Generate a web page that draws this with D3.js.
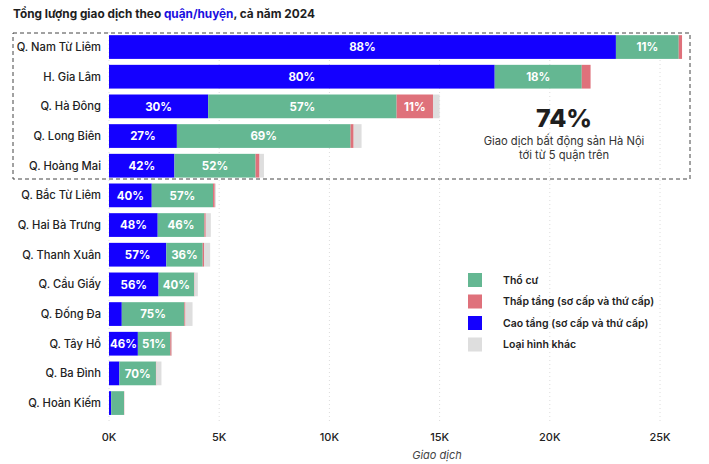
<!DOCTYPE html>
<html><head><meta charset="utf-8">
<script src="https://cdn.jsdelivr.net/npm/d3@7"></script>
<style>
body{margin:0;background:#fff;}
svg{display:block;font-family:Inter,"Noto Sans",sans-serif;}
</style></head>
<body><svg id="chart" width="709" height="464"></svg>
<script>
const districts = ["Q. Nam Từ Liêm","H. Gia Lâm","Q. Hà Đông","Q. Long Biên","Q. Hoàng Mai","Q. Bắc Từ Liêm","Q. Hai Bà Trưng","Q. Thanh Xuân","Q. Cầu Giấy","Q. Đống Đa","Q. Tây Hồ","Q. Ba Đình","Q. Hoàn Kiếm"];
// values in thousands of transactions
const caoTang  = [23.0, 17.5, 4.5, 3.08, 2.97, 1.94, 2.21, 2.6, 2.25, 0.58, 1.31, 0.47, 0.1];
const thoCu    = [2.85, 3.95, 8.55, 7.88, 3.68, 2.78, 2.12, 1.65, 1.61, 2.84, 1.47, 1.66, 0.58];
const thapTang = [0.15, 0.4, 1.65, 0.14, 0.18, 0.08, 0.06, 0.06, 0.02, 0.05, 0.06, 0.02, 0.01];
const khac     = [0.0, 0.0, 0.3, 0.36, 0.2, 0.05, 0.23, 0.28, 0.15, 0.32, 0.02, 0.23, 0.01];
const xTicks = [0, 5, 10, 15, 20, 25];
const seriesNames = ["Cao tầng (sơ cấp và thứ cấp)","Thổ cư","Thấp tầng (sơ cấp và thứ cấp)","Loại hình khác"];
const legendOrder = ["Thổ cư","Thấp tầng (sơ cấp và thứ cấp)","Cao tầng (sơ cấp và thứ cấp)","Loại hình khác"];
const colors = {"Cao tầng (sơ cấp và thứ cấp)":"#1400ff","Thổ cư":"#64b792","Thấp tầng (sơ cấp và thứ cấp)":"#df717b","Loại hình khác":"#dedede"};
const seriesArrays = [caoTang, thoCu, thapTang, khac];

const rows = districts.map((d,i)=>{const o={district:d}; seriesNames.forEach((s,j)=>o[s]=seriesArrays[j][i]); o.total=seriesArrays.reduce((a,arr)=>a+arr[i],0); return o;});

const svg = d3.select("#chart");
const x = d3.scaleLinear().domain([0,25]).range([109,660]);
const y = d3.scaleBand().domain(districts).range([32.2,417.9]).paddingInner(0.2).paddingOuter(0.1);

// title
const title = svg.append("text").attr("x",13).attr("y",18).attr("font-size",11.8).attr("font-weight",700).attr("fill","#1e1e1e");
title.append("tspan").text("Tổng lượng giao dịch theo ");
title.append("tspan").attr("fill","#1a10e0").text("quận/huyện");
title.append("tspan").text(", cả năm 2024");

// gridlines
svg.append("g").selectAll("line").data(xTicks).join("line")
  .attr("x1",d=>x(d)).attr("x2",d=>x(d)).attr("y1",32).attr("y2",424)
  .attr("stroke","#dcdcdc").attr("stroke-width",1).attr("stroke-dasharray","1,3");

// stacked bars
const stack = d3.stack().keys(seriesNames)(rows);
const g = svg.append("g");
stack.forEach(layer=>{
  const key = layer.key;
  const lg = g.append("g");
  lg.selectAll("rect").data(layer).join("rect")
    .attr("x",d=>x(d[0])).attr("width",d=>Math.max(0,x(d[1])-x(d[0])))
    .attr("y",d=>y(d.data.district)).attr("height",y.bandwidth())
    .attr("fill",colors[key]);
  lg.selectAll("text").data(layer.filter(d=>x(d[1])-x(d[0])>=25)).join("text")
    .attr("x",d=>(x(d[0])+x(d[1]))/2).attr("y",d=>y(d.data.district)+y.bandwidth()/2)
    .attr("dy","0.36em").attr("text-anchor","middle").attr("font-size",11.5).attr("font-weight",700)
    .attr("fill","#fff").text(d=>Math.round((d[1]-d[0])/d.data.total*100)+"%");
});

// y labels
svg.append("g").selectAll("text").data(districts).join("text")
  .attr("x",101).attr("y",d=>y(d)+y.bandwidth()/2).attr("dy","0.36em").attr("text-anchor","end")
  .attr("font-size",11.2).attr("font-weight",500).attr("fill","#222").text(d=>d);

// x axis labels
svg.append("g").selectAll("text").data(xTicks).join("text")
  .attr("x",d=>x(d)).attr("y",441).attr("text-anchor","middle").attr("font-size",11).attr("font-weight",500)
  .attr("fill","#222").text(d=>d+"K");
svg.append("text").attr("x",437).attr("y",459).attr("text-anchor","middle").attr("font-size",11)
  .attr("font-style","italic").attr("fill","#444").text("Giao dịch");

// dashed box
svg.append("rect").attr("x",13).attr("y",33).attr("width",677).attr("height",146)
  .attr("fill","none").attr("stroke","#444").attr("stroke-width",1).attr("stroke-dasharray","4,3");

// annotation
svg.append("text").attr("x",564).attr("y",127).attr("text-anchor","middle").attr("font-size",25).attr("font-weight",800).attr("fill","#1e1e1e").text("74%");
svg.append("text").attr("x",564).attr("y",145).attr("text-anchor","middle").attr("font-size",11.2).attr("fill","#333").text("Giao dịch bất động sản Hà Nội");
svg.append("text").attr("x",564).attr("y",159).attr("text-anchor","middle").attr("font-size",11.2).attr("fill","#333").text("tới từ 5 quận trên");

// legend
const leg = svg.append("g").selectAll("g").data(legendOrder).join("g")
  .attr("transform",(d,i)=>`translate(468,${273+i*21.5})`);
leg.append("rect").attr("width",14).attr("height",14).attr("fill",d=>colors[d]);
leg.append("text").attr("x",35).attr("y",7).attr("dy","0.36em").attr("font-size",10.5).attr("font-weight",600).attr("fill","#222").text(d=>d);
</script></body></html>
